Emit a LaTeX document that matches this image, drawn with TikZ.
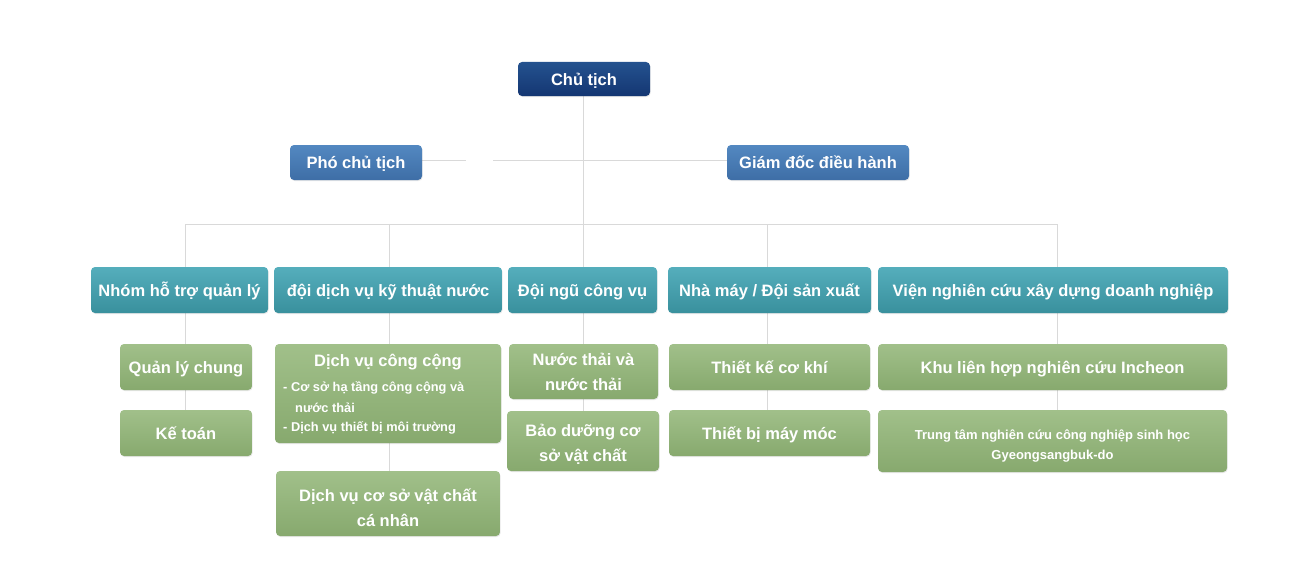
\documentclass[tikz,border=0pt]{standalone}
\usepackage{fontspec}
\setmainfont{Liberation Sans}
\usetikzlibrary{backgrounds,shadows}
\definecolor{navyT}{HTML}{24528F}
\definecolor{navyB}{HTML}{143672}
\definecolor{blueT}{HTML}{5388C1}
\definecolor{blueB}{HTML}{3E6EA6}
\definecolor{tealT}{HTML}{55AEBC}
\definecolor{tealB}{HTML}{39909D}
\definecolor{greenT}{HTML}{A1C08A}
\definecolor{greenB}{HTML}{87A96E}
\definecolor{linec}{HTML}{D9D9D9}
\tikzset{
  basebox/.style={rounded corners=4pt, inner sep=0pt, text=white, align=center,
    font=\bfseries\fontsize{16.5}{25}\selectfont,
    drop shadow={shadow xshift=0.6pt, shadow yshift=-1pt, opacity=0.18, rounded corners=4pt}},
  oneline/.style={text height=14pt, text depth=1.5pt},
  navybox/.style={basebox, top color=navyT, bottom color=navyB},
  bluebox/.style={basebox, top color=blueT, bottom color=blueB},
  tealbox/.style={basebox, top color=tealT, bottom color=tealB},
  greenbox/.style={basebox, top color=greenT, bottom color=greenB},
  conn/.style={draw=linec, line width=1pt},
  smalltxt/.style={text=white, inner sep=0pt, anchor=west, font=\bfseries\fontsize{12.8}{15}\selectfont},
}
\begin{document}
\begin{tikzpicture}[x=1pt,y=-1pt]
\useasboundingbox (0,0) rectangle (1300,578);
% top
\node[navybox, oneline, minimum width=132pt, minimum height=34pt] (ct) at (584,79) {Chủ tịch};
\node[bluebox, oneline, minimum width=132pt, minimum height=35pt] (pct) at (356,162.5) {Phó chủ tịch};
\node[bluebox, oneline, minimum width=182pt, minimum height=35pt] (gdd) at (818,162.5) {Giám đốc điều hành};
% row 2
\node[tealbox, oneline, minimum width=177pt, minimum height=46pt] (t1) at (179.5,290) {Nhóm hỗ trợ quản lý};
\node[tealbox, oneline, minimum width=228pt, minimum height=46pt] (t2) at (388,290) {đội dịch vụ kỹ thuật nước};
\node[tealbox, oneline, minimum width=149pt, minimum height=46pt] (t3) at (582.5,290) {Đội ngũ công vụ};
\node[tealbox, oneline, minimum width=203pt, minimum height=46pt] (t4) at (769.5,290) {Nhà máy / Đội sản xuất};
\node[tealbox, oneline, minimum width=350pt, minimum height=46pt] (t5) at (1053,290) {Viện nghiên cứu xây dựng doanh nghiệp};
% row 3
\node[greenbox, oneline, minimum width=132pt, minimum height=46pt] (g11) at (186,367) {Quản lý chung};
\node[greenbox, oneline, minimum width=132pt, minimum height=46pt] (g12) at (186,433) {Kế toán};
\node[greenbox, minimum width=226pt, minimum height=99pt] (g21) at (388,393.5) {};
\node[greenbox, minimum width=224pt, minimum height=65pt] (g22) at (388,503.5) {\rule{0pt}{22pt}Dịch vụ cơ sở vật chất\\cá nhân};
\node[greenbox, minimum width=149pt, minimum height=55pt] (g31) at (583.5,371.5) {Nước thải và\\nước thải};
\node[greenbox, minimum width=152pt, minimum height=60pt] (g32) at (583,441) {\rule{0pt}{19pt}Bảo dưỡng cơ\\sở vật chất};
\node[greenbox, oneline, minimum width=201pt, minimum height=46pt] (g41) at (769.5,367) {Thiết kế cơ khí};
\node[greenbox, oneline, minimum width=201pt, minimum height=46pt] (g42) at (769.5,433) {Thiết bị máy móc};
\node[greenbox, oneline, minimum width=349pt, minimum height=46pt] (g51) at (1052.5,367) {Khu liên hợp nghiên cứu Incheon};
\node[greenbox, minimum width=349pt, minimum height=62pt, font=\bfseries\fontsize{13}{20}\selectfont] (g52) at (1052.5,441) {\rule{0pt}{19pt}Trung tâm nghiên cứu công nghiệp sinh học\\Gyeongsangbuk-do};
% texts inside Dich vu cong cong
\node[text=white, inner sep=0pt, font=\bfseries\fontsize{16.5}{18}\selectfont] (g21t) at (388,362.5) {Dịch vụ công cộng};
\node[smalltxt] (g21a) at (283,387.5) {- Cơ sở hạ tầng công cộng và};
\node[smalltxt] (g21b) at (295,408) {nước thải};
\node[smalltxt] (g21c) at (283,428) {- Dịch vụ thiết bị môi trường};
% junction coordinates
\coordinate (ga) at (466,160);
\coordinate (gb) at (493,160);
\coordinate (b1) at (185,224);
\coordinate (b2) at (389,224);
\coordinate (b3) at (583,224);
\coordinate (b4) at (767,224);
\coordinate (b5) at (1057,224);
\begin{scope}[on background layer]
\draw[conn] (pct.east |- ga) -- (ga);
\draw[conn] (gb) -- (gdd.west |- gb);
\draw[conn] (b1) -- (b5);
\draw[conn] (ct.south -| b3) -- (b3 |- g32.north);
\draw[conn] (b1) -- (b1 |- g12.north);
\draw[conn] (b2) -- (b2 |- g22.north);
\draw[conn] (b4) -- (b4 |- g42.north);
\draw[conn] (b5) -- (b5 |- g52.north);
\end{scope}
\end{tikzpicture}
\end{document}
